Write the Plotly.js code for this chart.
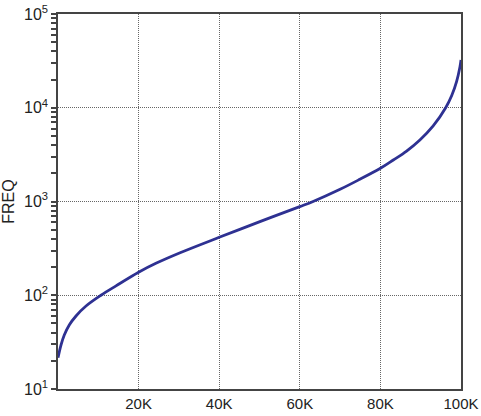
<!DOCTYPE html>
<html>
<head>
<meta charset="utf-8">
<script src="https://cdn.plot.ly/plotly-3.0.1.min.js"></script>
<style>
html,body{margin:0;padding:0;background:#fff;}
#chart{width:481px;height:416px;}
</style>
</head>
<body>
<div id="chart"></div>
<script>
// Data
var xValues = [0, 740, 1560, 2800, 4470, 6950, 10670, 14400, 20000, 24300, 30300, 40000, 50100, 60000, 63300, 70000, 74900, 80000, 83200, 86500, 89800, 93100, 96200, 97700, 98900, 99750, 100000];
var freqValues = [21.5, 29.4, 37.7, 48.2, 60.1, 76.7, 100, 126, 176, 219, 284, 415, 610, 881, 1000, 1349, 1725, 2260, 2770, 3450, 4530, 6400, 10000, 13500, 19000, 27400, 32300];

var xTickVals = [20000, 40000, 60000, 80000, 100000];
var xTickText = ['20K', '40K', '60K', '80K', '100K'];
var yTickVals = [10, 100, 1000, 10000, 100000];
var yTickText = ['10<sup>1</sup>', '10<sup>2</sup>', '10<sup>3</sup>', '10<sup>4</sup>', '10<sup>5</sup>'];

var minorVals = [];
for (var e = 1; e < 5; e++) {
  for (var m = 2; m <= 9; m++) minorVals.push(m * Math.pow(10, e));
}

var trace = {
  x: xValues,
  y: freqValues,
  type: 'scatter',
  mode: 'lines',
  line: {color: '#2E3192', width: 2.8, shape: 'spline', smoothing: 1},
  hoverinfo: 'none'
};

var layout = {
  width: 481,
  height: 416,
  margin: {l: 58, r: 20, t: 14, b: 27, pad: 0},
  paper_bgcolor: '#ffffff',
  plot_bgcolor: '#ffffff',
  showlegend: false,
  font: {family: 'Liberation Sans, Arial, sans-serif', color: '#222222', size: 15},
  xaxis: {
    range: [0, 100000],
    tickmode: 'array',
    tickvals: xTickVals,
    ticktext: xTickText,
    ticks: '',
    showline: true,
    linecolor: '#444444',
    linewidth: 2,
    mirror: true,
    showgrid: true,
    gridcolor: '#666666',
    gridwidth: 1,
    griddash: '1px,1px',
    zeroline: false,
    tickfont: {size: 15, color: '#222222'}
  },
  yaxis: {
    type: 'log',
    range: [1, 5],
    tickmode: 'array',
    tickvals: yTickVals,
    ticktext: yTickText,
    ticks: 'outside',
    ticklen: 5,
    tickwidth: 1.5,
    tickcolor: '#444444',
    showline: true,
    linecolor: '#444444',
    linewidth: 1.5,
    mirror: true,
    showgrid: true,
    gridcolor: '#666666',
    gridwidth: 1,
    griddash: '1px,1px',
    zeroline: false,
    tickfont: {size: 16, color: '#222222'},
    title: {text: 'FREQ', font: {size: 16, color: '#222222'}, standoff: 8},
    minor: {
      tickmode: 'array',
      tickvals: minorVals,
      ticks: 'outside',
      ticklen: 5,
      tickwidth: 1.5,
      tickcolor: '#444444',
      showgrid: false
    }
  }
};

Plotly.newPlot('chart', [trace], layout, {displayModeBar: false});
</script>
</body>
</html>
